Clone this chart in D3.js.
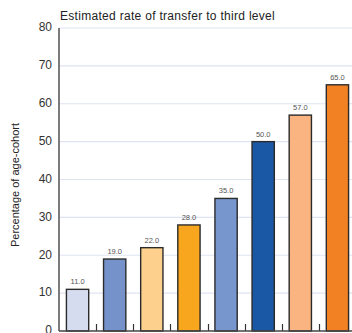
<!DOCTYPE html>
<html>
<head>
<meta charset="utf-8">
<script src="https://cdn.jsdelivr.net/npm/d3@7"></script>
<style>
  html, body { margin: 0; padding: 0; background: #fff; }
  svg { display: block; font-family: "Liberation Sans", Arial, sans-serif; }
</style>
</head>
<body>
<svg id="chart" width="352" height="333"></svg>
<script>
// Transfer-rate groups, one bar each
const groups = ["g1", "g2", "g3", "g4", "g5", "g6", "g7", "g8"];
const rates = [11.0, 19.0, 22.0, 28.0, 35.0, 50.0, 57.0, 65.0];
const barColors = ["#d5dcef", "#7593ca", "#fdd08e", "#f8a61d", "#7796cd", "#1a57a4", "#f9b482", "#f28123"];
const yTicks = [0, 10, 20, 30, 40, 50, 60, 70, 80];

const title = "Estimated rate of transfer to third level";
const yTitle = "Percentage of age-cohort";

const svg = d3.select("#chart");
const W = 352;

const y = d3.scaleLinear().domain([0, 80]).range([331, 28]);
const x = d3.scaleBand().domain(groups).range([59, 356]).paddingInner(0.4).paddingOuter(0.2);

// horizontal gridlines
svg.append("g").selectAll("line")
  .data(yTicks.filter(d => d > 0))
  .join("line")
  .attr("x1", 59).attr("x2", W)
  .attr("y1", d => y(d)).attr("y2", d => y(d))
  .attr("stroke", "#dfe4f2").attr("stroke-width", 1.2);

// y tick labels
svg.append("g").selectAll("text")
  .data(yTicks)
  .join("text")
  .attr("x", 52).attr("y", d => y(d) - 1)
  .attr("dy", "0.36em")
  .attr("text-anchor", "end")
  .attr("font-size", 12)
  .attr("fill", "#333")
  .text(d => d);

// bars
svg.append("g").selectAll("rect")
  .data(rates)
  .join("rect")
  .attr("x", (d, i) => x(groups[i]))
  .attr("y", d => y(d))
  .attr("width", x.bandwidth())
  .attr("height", d => y(0) - y(d))
  .attr("fill", (d, i) => barColors[i])
  .attr("stroke", "#2b2b2b")
  .attr("stroke-width", 1.4);

// value labels
svg.append("g").selectAll("text")
  .data(rates)
  .join("text")
  .attr("x", (d, i) => x(groups[i]) + x.bandwidth() / 2)
  .attr("y", d => y(d) - 5)
  .attr("text-anchor", "middle")
  .attr("font-size", 7.5)
  .attr("fill", "#555")
  .text(d => d.toFixed(1));

// category boundary ticks along the baseline
const boundaries = groups.slice(0, -1).map(g => x(g) + x.bandwidth() + (x.step() - x.bandwidth()) / 2);
svg.append("g").selectAll("line")
  .data(boundaries)
  .join("line")
  .attr("x1", d => Math.round(d) + 0.5).attr("x2", d => Math.round(d) + 0.5)
  .attr("y1", y(0) - 7).attr("y2", y(0))
  .attr("stroke", "#333").attr("stroke-width", 1.2);

// axes lines
svg.append("line")
  .attr("x1", 59).attr("x2", 59)
  .attr("y1", y(80)).attr("y2", y(0))
  .attr("stroke", "#444").attr("stroke-width", 1.4);
svg.append("line")
  .attr("x1", 59).attr("x2", W)
  .attr("y1", y(0)).attr("y2", y(0))
  .attr("stroke", "#444").attr("stroke-width", 1.4);

// titles
svg.append("text")
  .attr("x", 60).attr("y", 20)
  .attr("font-size", 12)
  .attr("letter-spacing", 0.3)
  .attr("fill", "#222")
  .text(title);

svg.append("text")
  .attr("transform", "translate(19,185) rotate(-90)")
  .attr("text-anchor", "middle")
  .attr("font-size", 11)
  .attr("fill", "#222")
  .text(yTitle);
</script>
</body>
</html>
